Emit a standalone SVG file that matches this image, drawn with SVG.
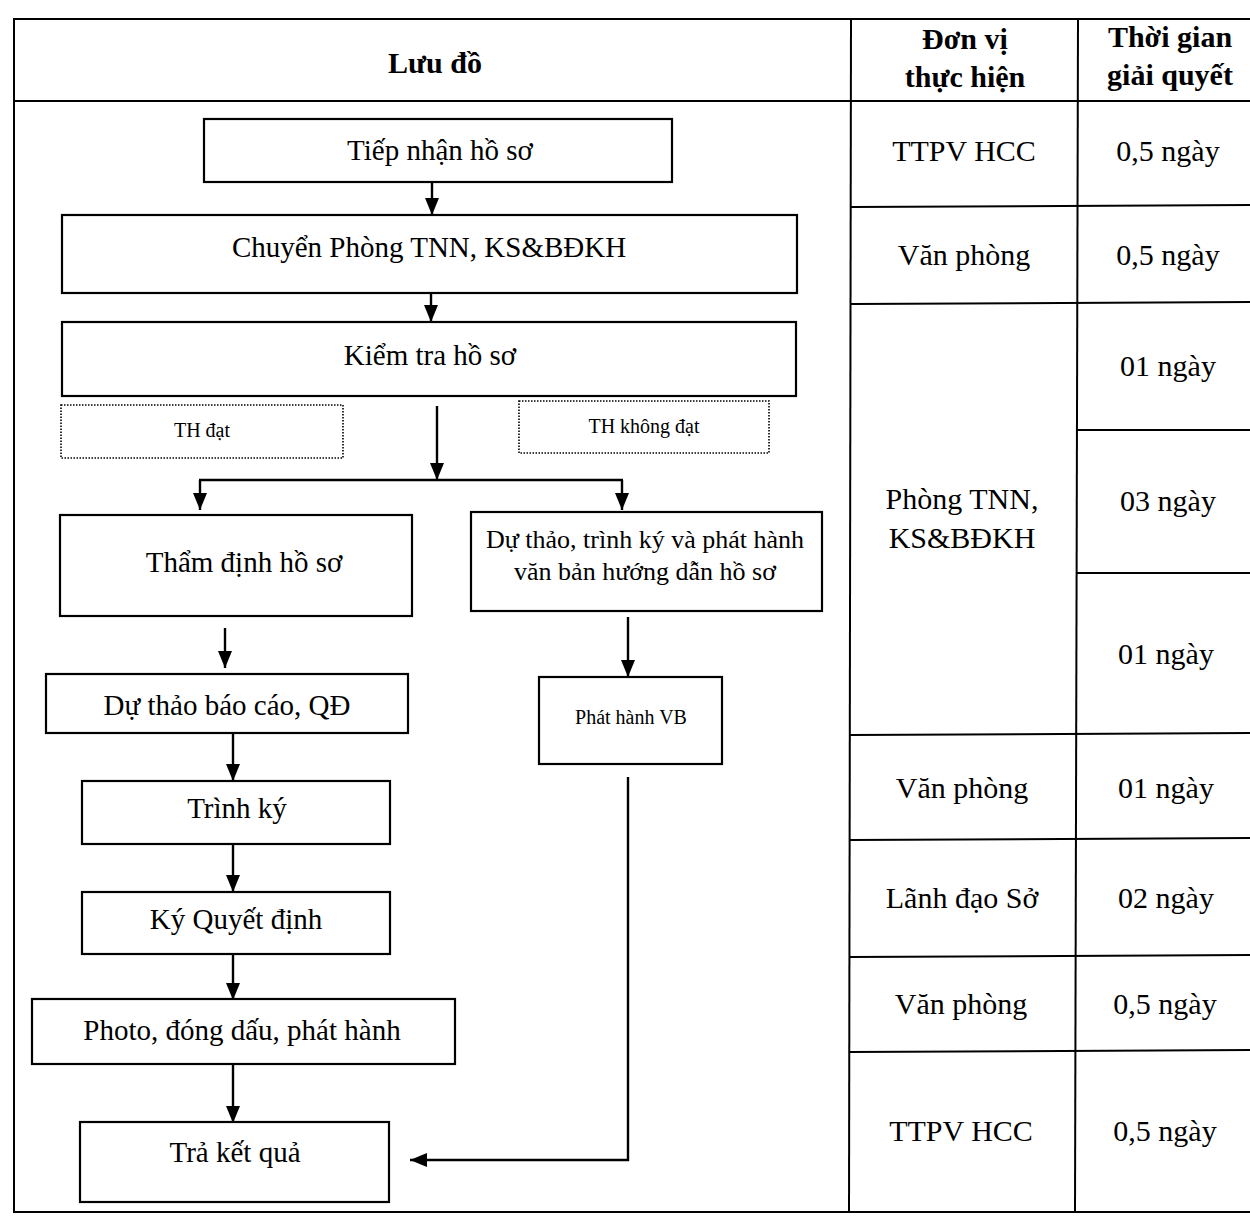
<svg xmlns="http://www.w3.org/2000/svg" width="1250" height="1217" viewBox="0 0 1250 1217">
<style>
text{font-family:"Liberation Serif","Times New Roman",serif;fill:#000;text-anchor:middle;dominant-baseline:central}
.hd{font-weight:bold;font-size:30px}
.cell{font-size:30px}
.n{font-size:29px}
.s{font-size:20px}
.m{font-size:26px}
.box{fill:#fff;stroke:#000;stroke-width:2.2}
.dot{fill:#fff;stroke:#000;stroke-width:1.6;stroke-dasharray:1.5 1.5}
.tl{stroke:#000;stroke-width:2;fill:none}
.cn{stroke:#000;stroke-width:2.4;fill:none}
</style>
<defs>
<marker id="ah" markerUnits="userSpaceOnUse" markerWidth="18" markerHeight="14" refX="17" refY="7" orient="auto">
<path d="M0,0 L17,7 L0,14 z" fill="#000"/>
</marker>
</defs>
<rect width="1250" height="1217" fill="#fff"/>
<g id="table">
<rect class="tl" x="14" y="19" width="1240" height="1193"/>
<line class="tl" x1="14" y1="101" x2="1250" y2="101"/>
<line class="tl" x1="851" y1="19" x2="849" y2="1212"/>
<line class="tl" x1="1078" y1="19" x2="1075" y2="1212"/>
<line class="tl" x1="851" y1="207" x2="1250" y2="205"/>
<line class="tl" x1="851" y1="304" x2="1250" y2="302"/>
<line class="tl" x1="1077" y1="430" x2="1250" y2="430"/>
<line class="tl" x1="1077" y1="573" x2="1250" y2="573"/>
<line class="tl" x1="850" y1="735" x2="1250" y2="733"/>
<line class="tl" x1="850" y1="840" x2="1250" y2="838"/>
<line class="tl" x1="849" y1="957" x2="1250" y2="955"/>
<line class="tl" x1="849" y1="1052" x2="1250" y2="1050"/>
<text class="hd" x="435" y="62">Lưu đồ</text>
<text class="hd" x="965" y="38">Đơn vị</text>
<text class="hd" x="965" y="76">thực hiện</text>
<text class="hd" x="1170" y="36">Thời gian</text>
<text class="hd" x="1170" y="74">giải quyết</text>
<text class="cell" x="964" y="150">TTPV HCC</text>
<text class="cell" x="1168" y="150">0,5 ngày</text>
<text class="cell" x="964" y="254">Văn phòng</text>
<text class="cell" x="1168" y="254">0,5 ngày</text>
<text class="cell" x="962" y="498">Phòng TNN,</text>
<text class="cell" x="962" y="537">KS&amp;BĐKH</text>
<text class="cell" x="1168" y="365">01 ngày</text>
<text class="cell" x="1168" y="500">03 ngày</text>
<text class="cell" x="1166" y="653">01 ngày</text>
<text class="cell" x="962" y="787">Văn phòng</text>
<text class="cell" x="1166" y="787">01 ngày</text>
<text class="cell" x="962" y="897">Lãnh đạo Sở</text>
<text class="cell" x="1166" y="897">02 ngày</text>
<text class="cell" x="961" y="1003">Văn phòng</text>
<text class="cell" x="1165" y="1003">0,5 ngày</text>
<text class="cell" x="961" y="1130">TTPV HCC</text>
<text class="cell" x="1165" y="1130">0,5 ngày</text>
</g>
<g id="connectors">
<line class="cn" x1="432" y1="182" x2="432" y2="215" marker-end="url(#ah)"/>
<line class="cn" x1="431" y1="293" x2="431" y2="322" marker-end="url(#ah)"/>
<line class="cn" x1="437" y1="406" x2="437" y2="480" marker-end="url(#ah)"/>
<line class="cn" x1="199" y1="480" x2="623" y2="480"/>
<line class="cn" x1="200" y1="480" x2="200" y2="510" marker-end="url(#ah)"/>
<line class="cn" x1="622" y1="480" x2="622" y2="510" marker-end="url(#ah)"/>
<line class="cn" x1="225" y1="628" x2="225" y2="668" marker-end="url(#ah)"/>
<line class="cn" x1="628" y1="617" x2="628" y2="677" marker-end="url(#ah)"/>
<line class="cn" x1="233" y1="734" x2="233" y2="781" marker-end="url(#ah)"/>
<line class="cn" x1="233" y1="845" x2="233" y2="892" marker-end="url(#ah)"/>
<line class="cn" x1="233" y1="955" x2="233" y2="1000" marker-end="url(#ah)"/>
<line class="cn" x1="233" y1="1065" x2="233" y2="1123" marker-end="url(#ah)"/>
<polyline class="cn" points="628,777 628,1160 410,1160" marker-end="url(#ah)"/>
</g>
<g id="n1"><rect class="box" x="204" y="119" width="468" height="63"/><text class="n" x="440" y="150">Tiếp nhận hồ sơ</text></g>
<g id="n2"><rect class="box" x="62" y="215" width="735" height="78"/><text class="n" x="429" y="247">Chuyển Phòng TNN, KS&amp;BĐKH</text></g>
<g id="n3"><rect class="box" x="62" y="322" width="734" height="74"/><text class="n" x="430" y="355">Kiểm tra hồ sơ</text></g>
<g id="n4"><rect class="dot" x="61" y="405" width="282" height="53"/><text class="s" x="202" y="430">TH đạt</text></g>
<g id="n5"><rect class="dot" x="519" y="401" width="250" height="52"/><text class="s" x="644" y="426">TH không đạt</text></g>
<g id="n6"><rect class="box" x="60" y="515" width="352" height="101"/><text class="n" x="244" y="562">Thẩm định hồ sơ</text></g>
<g id="n7"><rect class="box" x="471" y="512" width="351" height="99"/><text class="m" x="645" y="539">Dự thảo, trình ký và phát hành</text><text class="m" x="645" y="571">văn bản hướng dẫn hồ sơ</text></g>
<g id="n8"><rect class="box" x="46" y="674" width="362" height="59"/><text class="n" x="227" y="705">Dự thảo báo cáo, QĐ</text></g>
<g id="n9"><rect class="box" x="539" y="677" width="183" height="87"/><text class="s" x="631" y="717">Phát hành VB</text></g>
<g id="n10"><rect class="box" x="82" y="781" width="308" height="63"/><text class="n" x="237" y="808">Trình ký</text></g>
<g id="n11"><rect class="box" x="82" y="892" width="308" height="62"/><text class="n" x="236" y="919">Ký Quyết định</text></g>
<g id="n12"><rect class="box" x="32" y="999" width="423" height="65"/><text class="n" x="242" y="1030">Photo, đóng dấu, phát hành</text></g>
<g id="n13"><rect class="box" x="80" y="1122" width="309" height="80"/><text class="n" x="235" y="1152">Trả kết quả</text></g>
</svg>
